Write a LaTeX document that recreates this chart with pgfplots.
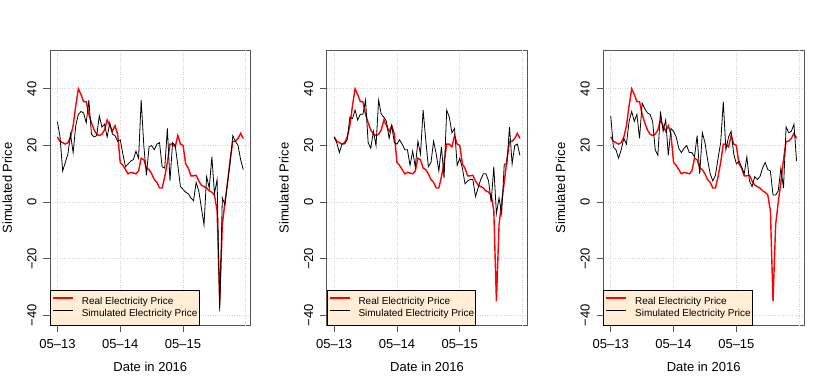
\documentclass[border=0pt]{standalone}
\usepackage{fontspec}
\setmainfont{Liberation Sans}
\usepackage{pgfplots}
\usepackage{pgfplotstable}
\pgfplotsset{compat=1.18}
\definecolor{legfill}{HTML}{FFEED5}
\definecolor{lgray}{HTML}{D3D3D3}
\definecolor{boxgray}{HTML}{555555}

% hourly prices, 13-15 May 2016 (hour 0 = 05-13 00:00)
\pgfplotstableread{
h real sima simb simc
0 23 28.4 23 30.5
1 21.5 23 21 19.5
2 21 11 17.5 18.5
3 20.5 14 20.5 15.5
4 21 17 20.5 18.5
5 23 24 22 22.5
6 27 17.5 30 20.5
7 34 27 29.5 28.5
8 40 31 32.5 32
9 38 32 29 28.5
10 35.5 31.5 31 31
11 35.5 28 31 22.5
12 31 36 36 35
13 28 24 21 33
14 25.5 23 19 31.5
15 24 23.5 25 31
16 23.5 30.5 20 28.5
17 24 26.5 36 18.5
18 25.5 27.5 31 16.5
19 29 23 30 32
20 27 28 28.5 25
21 25 24 22.5 29
22 27 23.5 27 16.5
23 24 21.5 21 26
24 14 22 20.5 25
25 13 17 22 23
26 11.5 12.5 20.5 19
27 10 13.5 18.5 17.5
28 10.5 14.5 18.5 19
29 10.3 15 13 20
30 10 18 18 17.5
31 11 15.5 12.5 17.5
32 15.5 36 21.5 16
33 15 20 17 23.5
34 12 9.5 32.5 10
35 11.5 19.5 22 24.5
36 10 20 12.5 21
37 8 18.5 14 15
38 7 20.5 21.5 10
39 5 21 17 7.5
40 5 12.5 11 9.5
41 9 12 19.5 15.5
42 14 26 8.5 21
43 20.5 7.5 32.5 35.5
44 20.5 21 30 18.5
45 19.5 20 24.5 23
46 23.5 13 26 25
47 20.5 5.5 13 17
48 20 4.5 15.5 13.5
49 13.5 3.5 12 14.5
50 12 3 6.5 12.5
51 9.3 1.5 7.5 10
52 9.3 0.5 8 16
53 9.5 7 8 7.5
54 7.5 4 2 5.5
55 6 -2 5 9
56 5.5 -8 8 8
57 5 9 10 9
58 4 5 10 12
59 3.5 16 7.5 14
60 2.5 3 0 11.5
61 -3 8 12.5 11
62 -35 -38.5 -4 2.5
63 -8 1.5 1.5 2.5
64 0 -1 -4 4
65 7 7 13.5 12
66 15 14 13.5 5
67 21.5 23.5 26.5 26.5
68 21.5 21.5 13.5 24.5
69 22.5 20 20 25
70 24.3 15 20.5 27.5
71 22.5 11.5 16.5 14.5
}\prices

\pgfplotsset{
  panel/.style={
    scale only axis, width=200.7bp, height=275.4bp,
    anchor=south west,
    xmin=-2.84, xmax=73.84, ymin=-43.6, ymax=53.6,
    axis line style={boxgray, line width=0.8bp},
    tick align=outside, tick pos=left,
    major tick length=6.7bp,
    tick style={boxgray, line width=0.8bp},
    xtick={0,24,48},
    xticklabels={05\textendash13,05\textendash14,05\textendash15},
    ytick={-40,-20,0,20,40},
    yticklabels={−40,−20,0,20,40},
    extra x ticks={72}, extra x tick labels={},
    extra x tick style={major tick length=0pt, grid=major},
    grid=major,
    grid style={lgray, dotted, line width=0.8bp},
    font=\fontsize{13bp}{15bp}\selectfont,
    xticklabel style={anchor=base, yshift=-15.9bp},
    yticklabel style={rotate=90, anchor=base},
    yticklabel shift=7bp,
    xlabel={Date in 2016}, ylabel={Simulated Price},
    xlabel style={at={([yshift=-41.4bp]rel axis cs:0.5,0)}, anchor=center},
    ylabel style={at={([xshift=-42.8bp]rel axis cs:0,0.5)}, anchor=center},
    legend style={at={(rel axis cs:0,0)}, anchor=south west,
      fill=legfill, draw=black, line width=0.8bp,
      font=\fontsize{10bp}{12bp}\selectfont,
      inner xsep=1.7bp, inner ysep=7bp, row sep=3.5bp,
      nodes={inner sep=0bp},
      /tikz/every odd column/.append style={column sep=8.3bp}},
    legend cell align=left,
    legend image code/.code={\draw[##1] (0bp,3.5bp) -- (20bp,3.5bp);},
  },
  realline/.style={red, line width=1.4bp},
  simline/.style={black, line width=0.8bp},
}

\begin{document}
\begin{tikzpicture}[x=1bp,y=1bp]
\path[use as bounding box] (0,0) rectangle (830,388);

\begin{axis}[panel, at={(50bp,62.3bp)}]
  \addplot[realline] table[x=h, y=real] {\prices};
  \addlegendentry{Real Electricity Price}
  \addplot[simline] table[x=h, y=sima] {\prices};
  \addlegendentry{Simulated Electricity Price\hspace{3.6bp}}
\end{axis}

\begin{axis}[panel, at={(326.7bp,62.3bp)}]
  \addplot[realline] table[x=h, y=real] {\prices};
  \addlegendentry{Real Electricity Price}
  \addplot[simline] table[x=h, y=simb] {\prices};
  \addlegendentry{Simulated Electricity Price\hspace{3.6bp}}
\end{axis}

\begin{axis}[panel, at={(603.3bp,62.3bp)}]
  \addplot[realline] table[x=h, y=real] {\prices};
  \addlegendentry{Real Electricity Price}
  \addplot[simline] table[x=h, y=simc] {\prices};
  \addlegendentry{Simulated Electricity Price\hspace{3.6bp}}
\end{axis}
\end{tikzpicture}
\end{document}
